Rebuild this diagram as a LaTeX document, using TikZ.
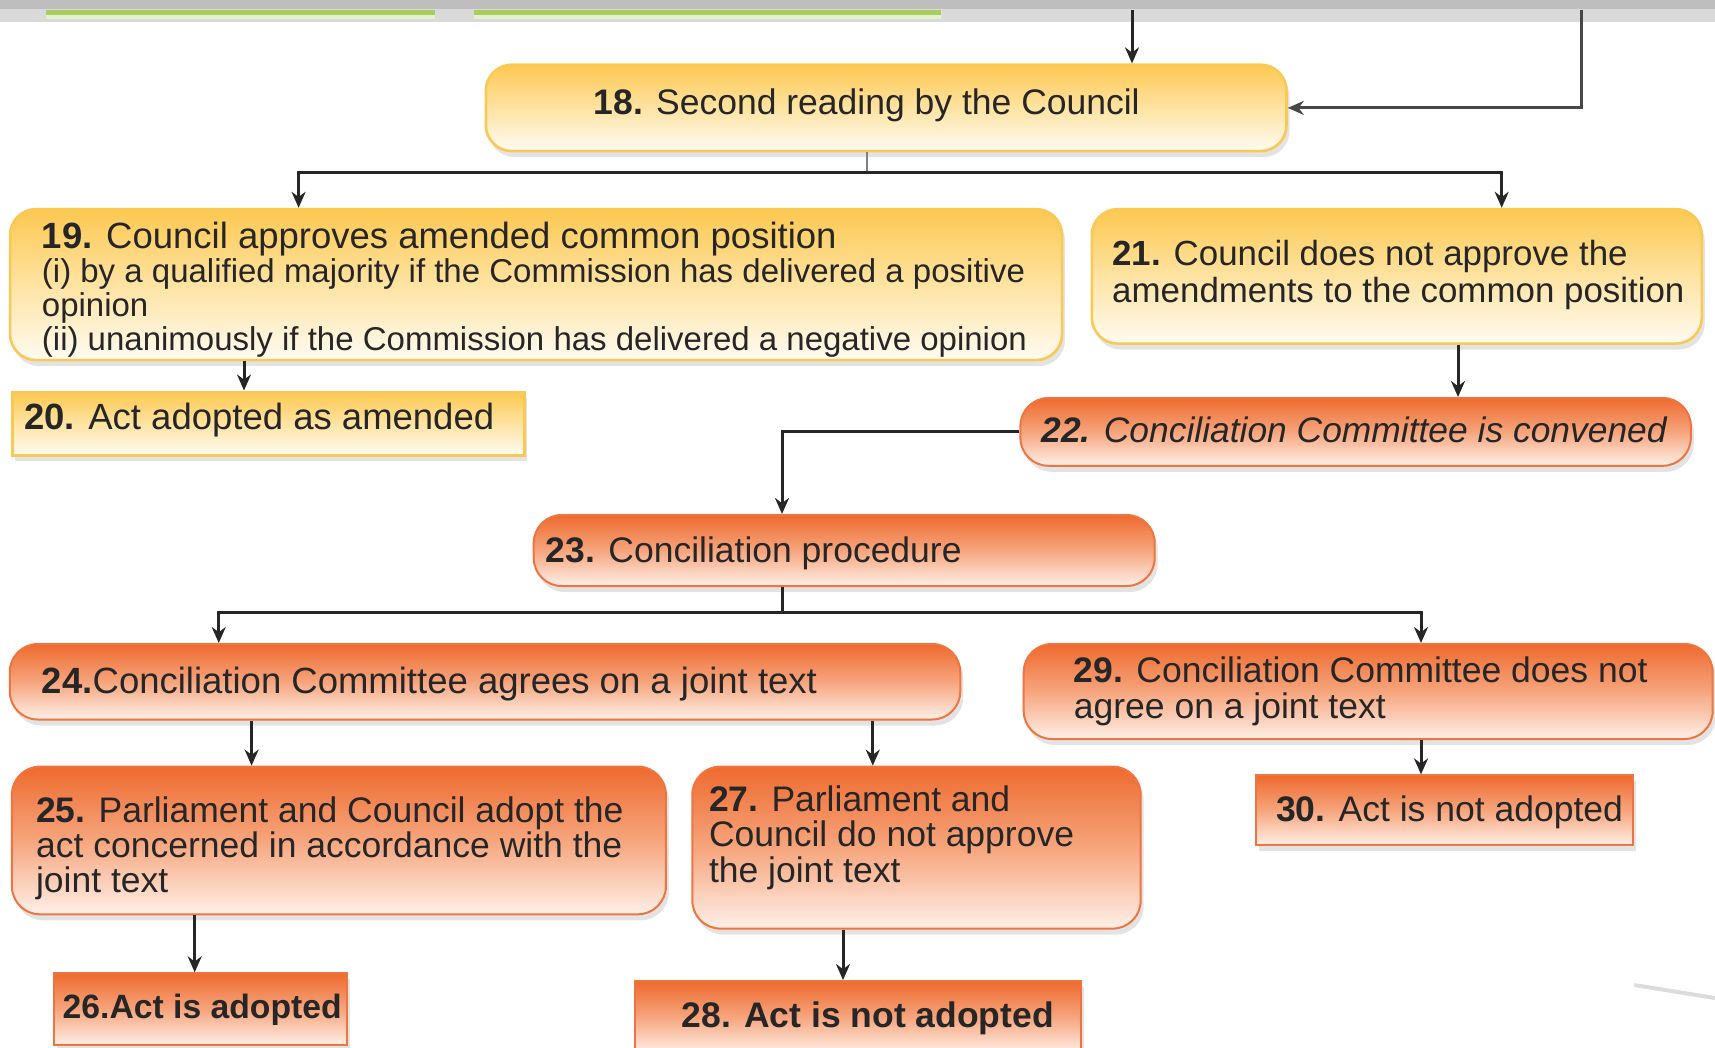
\documentclass[tikz,border=0pt]{standalone}
\usepackage{fontspec}
\setmainfont{Liberation Sans}
\usetikzlibrary{arrows.meta,shadows}
\definecolor{ink}{HTML}{262626}
\definecolor{yelTop}{HTML}{FCC850}
\definecolor{yelMid}{HTML}{FEE3A2}
\definecolor{yelBot}{HTML}{FFFBF2}
\definecolor{yelLine}{HTML}{FAC955}
\definecolor{orTop}{HTML}{EE6A2E}
\definecolor{orMid}{HTML}{F6A57D}
\definecolor{orBot}{HTML}{FEF0E8}
\definecolor{orLine}{HTML}{EF7440}
\definecolor{barDark}{HTML}{BEBEBE}
\definecolor{barLight}{HTML}{DADADA}
\definecolor{barGreen}{HTML}{A8CF5E}
\definecolor{fadeGray}{HTML}{DCDCDC}
\begin{document}
\begin{tikzpicture}
[ x=1pt, y=-1pt
, link/.style={line width=3pt, draw=ink}
, flow/.style={link, -{Stealth[length=16pt, width=14pt]}}
, stage/.style={inner sep=0pt, anchor=north west, line width=2.6pt, drop shadow={shadow xshift=3pt, shadow yshift=-6pt, opacity=0.22}}
, yround/.style={stage, rounded corners=26pt, draw=yelLine, top color=yelTop, bottom color=yelBot, middle color=yelMid}
, yrect/.style={stage, draw=yelLine, top color=yelTop, bottom color=yelBot, middle color=yelMid}
, oround/.style={stage, rounded corners=28pt, draw=orLine, line width=2pt, top color=orTop, bottom color=orBot, middle color=orMid}
, orect/.style={stage, draw=orLine, line width=2pt, top color=orTop, bottom color=orBot, middle color=orMid}
, txt/.style={inner sep=0pt, anchor=west, align=left, text=ink, font=\fontsize{35.5}{36}\selectfont}
]
\useasboundingbox (0,0) rectangle (1715,1048);

% cut-off strip of the previous part
\fill[barLight] (0,9) rectangle (1715,22);
\fill[barDark] (0,0) rectangle (1715,9.5);
\fill[barGreen] (46,10) rectangle (435,15);
\fill[barGreen!30] (46,15) rectangle (435,19);
\fill[barGreen] (474,10) rectangle (941,15);
\fill[barGreen!30] (474,15) rectangle (941,19);
\draw[fadeGray, line width=4pt] (1634,985) -- (1715,998);

% Council stage:
\node (b18) [yround, minimum width=800.7pt, minimum height=86.4pt] at (484.5,63.4) {};
\node (b19) [yround, minimum width=1052pt, minimum height=151pt] at (8.75,207.8) {};
\node (b21) [yround, minimum width=610pt, minimum height=134.5pt] at (1090.5,207.8) {};
\node (b20) [yrect, minimum width=512pt, minimum height=63.4pt] at (10.9,390.5) {};
% Conciliation stage:
\node (b22) [oround, minimum width=670.4pt, minimum height=67.8pt] at (1019.4,397) {};
\node (b23) [oround, minimum width=621pt, minimum height=71pt] at (532.7,514) {};
\node (b24) [oround, minimum width=950.5pt, minimum height=75.5pt] at (8.75,643) {};
\node (b29) [oround, minimum width=689pt, minimum height=95pt] at (1022.7,643) {};
\node (b25) [oround, minimum width=654pt, minimum height=147.7pt] at (10.9,765.6) {};
\node (b27) [oround, minimum width=448.4pt, minimum height=162pt] at (691.3,765.6) {};
\node (b30) [orect, minimum width=377.3pt, minimum height=70pt] at (1254.5,774.4) {};
\node (b26) [orect, minimum width=293pt, minimum height=72pt] at (52.5,972.3) {};
\node (b28) [orect, minimum width=446pt, minimum height=72pt] at (634.4,980) {};

% Texts:
\node (t18) [txt] at ([xshift=109pt, yshift=3pt]b18.west) {\textbf{18.} Second reading by the Council};
\node (t19) [txt, font=\fontsize{33}{34.2}\selectfont] at ([xshift=33pt, yshift=-5pt]b19.west)
  {{\fontsize{36.5}{34.2}\selectfont\textbf{19.} Council approves amended common position}\\
   (i) by a qualified majority if the Commission has delivered a positive\\
   opinion\\
   (ii) unanimously if the Commission has delivered a negative opinion};
\node (t21) [txt, font=\fontsize{34.9}{37}\selectfont] at ([xshift=21.5pt, yshift=1.5pt]b21.west)
  {\textbf{21.} Council does not approve the\\ amendments to the common position};
\node (t20) [txt, font=\fontsize{36.5}{35}\selectfont] at ([xshift=13pt, yshift=3.5pt]b20.west) {\textbf{20.} Act adopted as amended};
\node (t22) [txt, font=\fontsize{35.4}{35}\selectfont\itshape] at ([xshift=22pt, yshift=2pt]b22.west) {\textbf{22.} Conciliation Committee is convened};
\node (t23) [txt] at ([xshift=13pt, yshift=-3pt]b23.west) {\textbf{23.} Conciliation procedure};
\node (t24) [txt, font=\fontsize{36.5}{35}\selectfont] at ([xshift=33pt, yshift=-2pt]b24.west) {\textbf{24.}Conciliation Committee agrees on a joint text};
\node (t29) [txt] at ([xshift=51pt, yshift=0pt]b29.west) {\textbf{29.} Conciliation Committee does not\\ agree on a joint text};
\node (t25) [txt, font=\fontsize{35.5}{35.3}\selectfont] at ([xshift=25pt, yshift=-8pt]b25.west)
  {\textbf{25.} Parliament and Council adopt the\\ act concerned in accordance with the\\ joint text};
\node (t27) [txt, font=\fontsize{35.5}{35.5}\selectfont] at ([xshift=17.5pt, yshift=10pt]b27.west)
  {\textbf{27.} Parliament and\\ Council do not approve\\ the joint text};
\node (t30) [txt] at ([xshift=21.5pt, yshift=-2pt]b30.west) {\textbf{30.} Act is not adopted};
\node (t26) [txt, font=\fontsize{33.7}{35}\selectfont\bfseries] at ([xshift=10pt]b26.west) {26.Act is adopted};
\node (t28) [txt, font=\fontsize{35.5}{35}\selectfont\bfseries] at ([xshift=47pt, yshift=-1pt]b28.west) {28. Act is not adopted};

% Guides for the connectors:
\coordinate (xin) at (1132,10);
\coordinate (xback) at (1581.6,10);
\coordinate (bus18) at (867,172.8);
\coordinate (x19) at (298.6,0);
\coordinate (x21) at (1501.7,0);
\coordinate (x20) at (244,0);
\coordinate (x22) at (1458,0);
\coordinate (bus23) at (782,612.5);
\coordinate (x24) at (218.75,0);
\coordinate (x29) at (1421,0);
\coordinate (x25) at (251.6,0);
\coordinate (x27) at (872.8,0);
\coordinate (x26) at (194.7,0);
\coordinate (x28) at (843,0);

\draw[flow] (xin) -- (xin |- b18.north);
\draw[flow, draw=ink!85] (xback) |- (b18.east);
\draw[link, draw=gray, line width=2pt] (bus18 |- b18.south) -- (bus18);
\draw[flow] (bus18) -| (x19 |- b19.north);
\draw[flow] (bus18) -| (x21 |- b21.north);
\draw[flow] (x20 |- b19.south) -- (x20 |- b20.north);
\draw[flow] (x22 |- b21.south) -- (x22 |- b22.north);
\draw[flow] (b22.west) -| (bus23 |- b23.north);
\draw[link] (bus23 |- b23.south) -- (bus23);
\draw[flow] (bus23) -| (x24 |- b24.north);
\draw[flow] (bus23) -| (x29 |- b29.north);
\draw[flow] (x25 |- b24.south) -- (x25 |- b25.north);
\draw[flow] (x27 |- b24.south) -- (x27 |- b27.north);
\draw[flow] (x29 |- b29.south) -- (x29 |- b30.north);
\draw[flow] (x26 |- b25.south) -- (x26 |- b26.north);
\draw[flow] (x28 |- b27.south) -- (x28 |- b28.north);
\end{tikzpicture}
\end{document}
